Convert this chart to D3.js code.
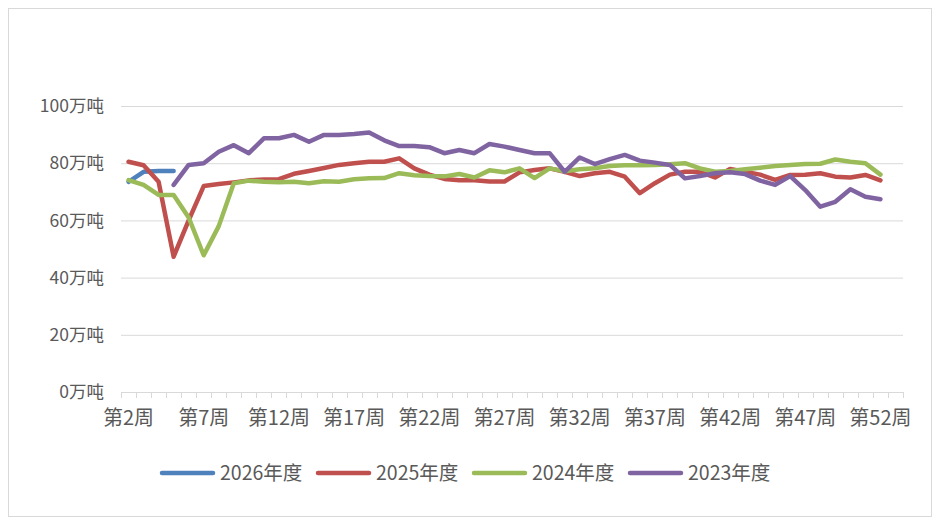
<!DOCTYPE html>
<meta charset="utf-8">
<body style="margin:0; background:#fff;">
<script src="https://d3js.org/d3.v7.min.js"></script>
<svg id="chart" width="940" height="525"></svg>
<script>
// weeks 2..53 on the category axis
var weeks = d3.range(2, 54);
var weekLabels = weeks.map(function(w){ return "第" + w + "周"; });
var yTicks = [0, 20, 40, 60, 80, 100];

var s2026 = [73.5, 77, 77.3, 77.3];
var s2025 = [80.5, 79.3, 73.5, 47.3, 60, 72, 72.7, 73.3, 74, 74.3,
             74.4, 76.3, 77.3, 78.3, 79.4, 80, 80.5, 80.5, 81.7, 78.2,
             76, 74.5, 74, 74, 73.6, 73.6, 76.8, 77.6, 78.2, 77,
             75.5, 76.5, 77, 75.3, 69.5, 73, 76, 77, 77, 75,
             78, 77, 76, 74.2, 75.9, 76, 76.5, 75.3, 75, 75.9, 74];
var s2024 = [74.1, 72.4, 68.9, 68.9, 61, 47.8, 58, 73, 73.9, 73.5,
             73.3, 73.5, 73, 73.7, 73.5, 74.4, 74.7, 74.8, 76.5, 75.8,
             75.5, 75.4, 76.2, 75, 77.5, 76.8, 78.2, 74.8, 78.2, 77.2,
             77.9, 78.2, 79, 79.3, 79.3, 79.4, 79.6, 80, 78.2, 77,
             77.3, 77.9, 78.4, 79, 79.4, 79.7, 79.8, 81.3, 80.5, 80, 76];
var s2023 = [null, null, null, 72.4, 79.4, 80, 84, 86.3, 83.5, 88.7,
             88.7, 89.9, 87.5, 89.9, 89.9, 90.2, 90.7, 88, 86, 86,
             85.6, 83.5, 84.6, 83.5, 86.7, 85.8, 84.6, 83.5, 83.5, 77,
             82, 79.7, 81.4, 82.9, 80.9, 80.2, 79.4, 74.7, 75.5, 76.5,
             76.8, 76.2, 73.9, 72.4, 75.5, 70.6, 64.8, 66.5, 70.9, 68.3, 67.4];

var seriesNames = ["2026年度", "2025年度", "2024年度", "2023年度"];
var seriesData = [s2026, s2025, s2024, s2023];
var colors = ["#4F81BD", "#C0504D", "#9BBB59", "#8064A2"];

var svg = d3.select("#chart");
var font = "'Noto Sans CJK SC', 'Microsoft YaHei', sans-serif";
var textColor = "#595959";

svg.append("rect")
   .attr("x", 8.5).attr("y", 8.5)
   .attr("width", 923).attr("height", 508)
   .attr("fill", "#fff").attr("stroke", "#D9D9D9");

var x = d3.scaleBand().domain(weekLabels).range([121, 903]).padding(0);
var y = d3.scaleLinear().domain([0, 100]).range([392, 106]);

// gridlines
svg.append("g").selectAll("line")
   .data(yTicks.filter(function(d){ return d > 0; }))
   .enter().append("line")
   .attr("x1", 121).attr("x2", 903)
   .attr("y1", function(d){ return y(d) + 0.5; })
   .attr("y2", function(d){ return y(d) + 0.5; })
   .attr("stroke", "#D9D9D9").attr("stroke-width", 1);

// y labels
svg.append("g").selectAll("text")
   .data(yTicks).enter().append("text")
   .attr("x", 104).attr("y", function(d){ return y(d); })
   .attr("dy", "0.35em")
   .attr("text-anchor", "end")
   .style("font-family", font).style("font-size", "17.5px")
   .attr("fill", textColor)
   .text(function(d){ return d + "万吨"; });

// x axis: line + category boundary ticks
var xAxis = d3.axisBottom(x)
   .tickValues(weekLabels.filter(function(d, i){ return i % 5 === 0; }))
   .tickSize(0).tickPadding(19);
var gx = svg.append("g").attr("transform", "translate(0,392)").call(xAxis);
gx.select(".domain").remove();
gx.selectAll("text")
   .style("font-family", font).style("font-size", "20px")
   .attr("fill", textColor);

var bounds = weekLabels.map(function(d){ return x(d); }).concat([903]);
svg.append("line")
   .attr("x1", 121).attr("x2", 903).attr("y1", 392.5).attr("y2", 392.5)
   .attr("stroke", "#D9D9D9");
svg.append("g").selectAll("line")
   .data(bounds).enter().append("line")
   .attr("x1", function(d){ return Math.round(d) + 0.5; })
   .attr("x2", function(d){ return Math.round(d) + 0.5; })
   .attr("y1", 392).attr("y2", 398)
   .attr("stroke", "#D9D9D9");

// lines
var line = d3.line()
   .defined(function(d){ return d != null; })
   .x(function(d, i){ return x(weekLabels[i]) + x.bandwidth() / 2; })
   .y(function(d){ return y(d); });

svg.append("g").selectAll("path")
   .data(seriesData).enter().append("path")
   .attr("d", line)
   .attr("fill", "none")
   .attr("stroke", function(d, i){ return colors[i]; })
   .attr("stroke-width", 4.5)
   .attr("stroke-linejoin", "round")
   .attr("stroke-linecap", "round");

// legend
var legendX = [160, 316, 472, 628];
var lg = svg.append("g").selectAll("g")
   .data(seriesNames).enter().append("g")
   .attr("transform", function(d, i){ return "translate(" + legendX[i] + ",473)"; });
lg.append("line")
   .attr("x1", 2).attr("x2", 53).attr("y1", 0).attr("y2", 0)
   .attr("stroke", function(d, i){ return colors[i]; })
   .attr("stroke-width", 4.5).attr("stroke-linecap", "round");
lg.append("text")
   .attr("x", 60).attr("y", 0).attr("dy", "0.35em")
   .style("font-family", font).style("font-size", "19.5px")
   .attr("fill", textColor)
   .text(function(d){ return d; });
</script>
</body>
